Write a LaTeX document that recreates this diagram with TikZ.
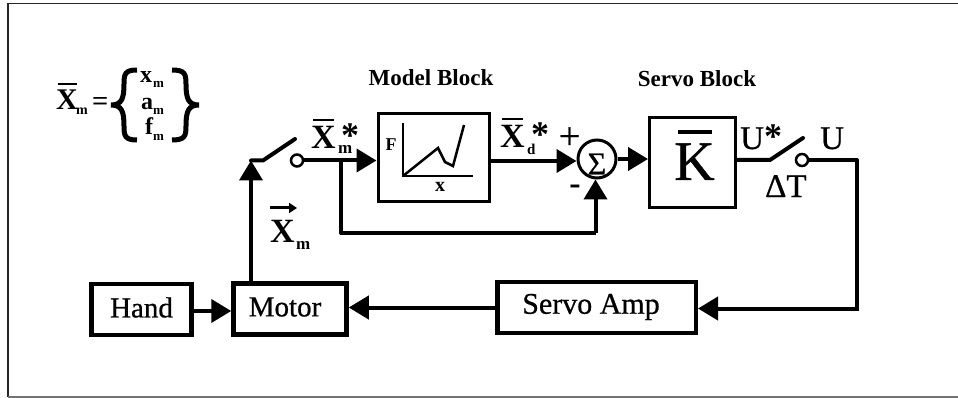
\documentclass[tikz,border=0pt]{standalone}
\usepackage{fontspec}
\setmainfont{Liberation Serif}
\newfontfamily\heavy{Liberation Serif}[FakeBold=0.7]
\usetikzlibrary{arrows.meta}
\newsavebox\ovlbox
\newcommand\ovl[1]{\sbox\ovlbox{#1}\rlap{\hspace{0.08\wd\ovlbox}\raisebox{0.82em}{\rule{0.86\wd\ovlbox}{0.065em}}}\usebox\ovlbox}
\tikzset{
  x=1pt,y=-1pt,
  blockbox/.style={draw=black,line width=4.5pt,inner sep=0pt,fill=white},
  wire/.style={draw=black,line width=4pt},
  tip/.style={-{Triangle[length=20pt,width=23pt]}},
  contact/.style={circle,draw=black,line width=2.5pt,minimum size=12pt,inner sep=0pt,fill=white},
  lbl/.style={inner sep=0pt,font=\fontsize{#1}{#1}\selectfont\heavy},
  lbl/.default=29,
  blbl/.style={inner sep=0pt,font=\fontsize{#1}{#1}\selectfont\bfseries},
  head/.style={inner sep=0pt,font=\fontsize{23}{23}\selectfont\bfseries},
}
\begin{document}
\begin{tikzpicture}
\useasboundingbox (0,0) rectangle (958,398);
\draw[black!85,line width=1.6pt] (958,3.5) -- (8,3.5) -- (8,397);
\draw[black!55,line width=1.3pt] (8,397) -- (958,397);
% blocks
\node[blockbox,minimum width=100pt,minimum height=51pt] (hand) at (141.5,309.5) {};
\node[lbl] at (141.5,307.5) {Hand};
\node[blockbox,minimum width=113pt,minimum height=51pt] (motor) at (290,309) {};
\node[lbl] at (285,307) {Motor};
\node[blockbox,minimum width=198.5pt,minimum height=51pt] (amp) at (596.5,307.5) {};
\node[lbl=30] at (591,307) {Servo Amp};
\node[draw=black,line width=3pt,minimum width=111pt,minimum height=88pt,inner sep=0pt] (model) at (433.5,158) {};
\node[draw=black,line width=3pt,minimum width=86pt,minimum height=90pt,inner sep=0pt] (kbox) at (692.5,162.5) {};
\node[lbl=56,anchor=base] at (694.5,180) {\ovl{K}};
\node[circle,draw=black,line width=3pt,minimum size=38pt,inner sep=0pt] (sum) at (597,159) {};
\node[lbl=32] at (597,164) {Σ};
\node[contact] (swa) at (297,160.5) {};
\node[contact] (swb) at (802,160) {};
\coordinate (j1) at (251,160.5);
\coordinate (j1b) at (263,160.5);
\coordinate (bladeA) at (295,139);
\coordinate (j2) at (770,160);
\coordinate (bladeB) at (803,138);
\coordinate (br) at (341,160.5);
\coordinate (c1) at (341,233);
\coordinate (c2) at (595.5,233);
\coordinate (c3) at (857,160);
\coordinate (c4) at (857,308.5);
% connectors
\draw[wire,tip] (hand.east |- 0,311) -- (motor.west |- 0,311);
\draw[wire,tip] (amp.west |- 0,307.5) -- (motor.east |- 0,307.5);
\draw[wire,tip] (motor.north -| j1) -- (j1);
\draw[wire,line cap=round] (j1) -- (j1b) -- (bladeA);
\draw[wire,tip] (swa.east) -- (model.west |- swa.east);
\draw[wire,line join=round] (br) -- (c1) -- (c2);
\draw[wire,tip] (c2) -- (sum.south -| c2);
\draw[wire,tip] (model.east |- 0,161) -- (sum.west |- 0,161);
\draw[wire,tip] (sum.east) -- (kbox.west |- sum.east);
\draw[wire,line cap=round] (kbox.east |- j2) -- (j2) -- (bladeB);
\draw[wire,line join=round] (swb.east) -- (c3) -- (c4);
\draw[wire,tip,shorten <=-2pt] (c4) -- (amp.east |- c4);
% plot
\draw[black,line width=2.5pt] (403,123) -- (403,176) -- (473,176);
\draw[black,line width=2.5pt] (403,176) -- (438,148) -- (445,162) -- (453,166) -- (464,125);
\node[blbl=18] (fl) at (391,145) {F};
\node[blbl=20] (xl) at (440,187) {x};
% labels
\node[head] (mb) at (431,78) {Model Block};
\node[head] (sb) at (697,79) {Servo Block};
\node[blbl=34,anchor=base west] (xms) at (311,149) {\ovl{X}};
\node[blbl=17,anchor=base west] (xmss) at (338,154) {m};
\node[blbl=36,anchor=base west] (star1) at (341,148) {*};
\node[blbl=34,anchor=base west] (xds) at (500,148) {\ovl{X}};
\node[blbl=15,anchor=base west] (xdss) at (527,155) {d};
\node[blbl=36,anchor=base west] (star2) at (531,147) {*};
\node[lbl=38] (plus) at (569.5,138) {+};
\node[blbl=34] (minus) at (575,190) {-};
\node[lbl=33,anchor=base west] (ustar) at (740,149) {U};
\node[blbl=36,anchor=base west] (ustar2) at (764,149) {*};
\node[lbl=33,anchor=base west] (uu) at (820,149) {U};
\node[lbl=33,anchor=base west] (dt) at (765,197) {ΔT};
\node[blbl=34,anchor=base west] (xv) at (270,242) {X};
\node[blbl=17,anchor=base west] (xvs) at (296,249) {m};
\coordinate (va) at (270,208);
\coordinate (vb) at (297,208);
\draw[black,line width=3pt,-{Triangle[length=8pt,width=10pt]}] (va) -- (vb);
% definition
\node[blbl=30,anchor=base west] (xdef) at (56,110) {\ovl{X}};
\node[blbl=14,anchor=base west] (xdefs) at (76,115) {m};
\node[lbl=28,anchor=base west] (eq) at (92,110) {=};
\node[blbl=24,anchor=base west] (v1) at (140,83) {x};
\node[blbl=24,anchor=base west] (v2) at (141,110) {a};
\node[blbl=24,anchor=base west] (v3) at (145,135) {f};
\node[blbl=13,anchor=base west] (v1s) at (153,88) {m};
\node[blbl=13,anchor=base west] (v2s) at (153,115) {m};
\node[blbl=13,anchor=base west] (v3s) at (153,141) {m};
\draw[black,line width=5pt] (137,70) .. controls (125,70) and (124,74) .. (124,84) .. controls (124,98) and (122,105) .. (111,105) .. controls (122,105) and (124,112) .. (124,126) .. controls (124,136) and (125,140) .. (137,140);
\draw[black,line width=5pt] (172,70) .. controls (185,70) and (186,74) .. (186,84) .. controls (186,98) and (188,105) .. (199,105) .. controls (188,105) and (186,112) .. (186,126) .. controls (186,136) and (185,140) .. (172,140);
\end{tikzpicture}
\end{document}
